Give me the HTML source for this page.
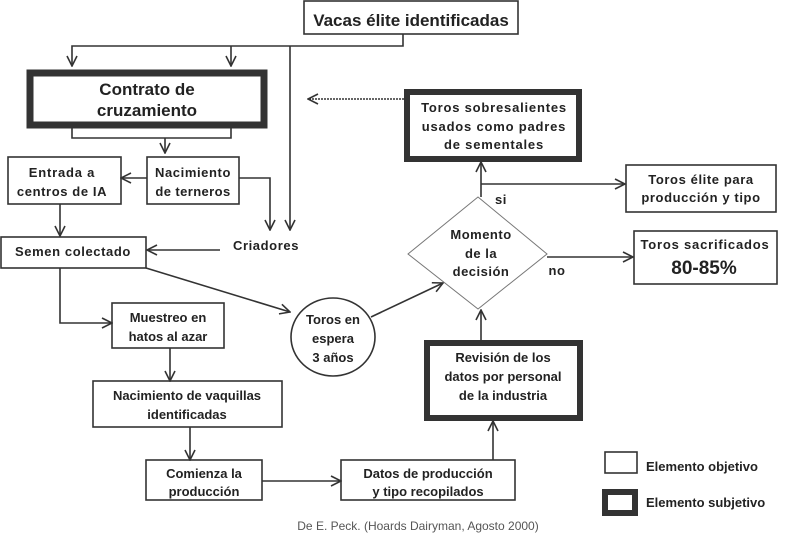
<!DOCTYPE html>
<html><head><meta charset="utf-8"><style>
html,body{margin:0;padding:0;background:#fff;}
svg{display:block}
text{font-family:"Liberation Sans",Arial,sans-serif;font-weight:bold;fill:#222;text-anchor:middle;font-size:13px}
</style></head><body>
<svg width="794" height="538" viewBox="0 0 794 538" xmlns="http://www.w3.org/2000/svg">
<defs>
<marker id="a" viewBox="0 0 12 12" refX="11" refY="6" markerWidth="12" markerHeight="12" markerUnits="userSpaceOnUse" orient="auto">
<path d="M1,1 L11,6 L1,11" fill="none" stroke="#333" stroke-width="1.6"/>
</marker>
</defs>
<g fill="none" stroke="#333" stroke-width="1.6">
<!-- boxes thin -->
<rect x="304" y="1" width="214" height="33"/>
<rect x="147" y="157" width="92" height="47"/>
<rect x="8" y="157" width="113" height="47"/>
<rect x="1" y="237" width="145" height="31"/>
<rect x="112" y="303" width="112" height="45"/>
<rect x="93" y="381" width="189" height="46"/>
<rect x="146" y="460" width="116" height="40"/>
<rect x="341" y="460" width="174" height="40"/>
<rect x="626" y="165" width="150" height="47"/>
<rect x="634" y="231" width="143" height="53"/>
<rect x="605" y="452" width="32" height="21"/>
<ellipse cx="333" cy="337" rx="42" ry="39"/>
<!-- thick boxes -->
<rect x="30" y="73" width="234" height="52" stroke-width="7"/>
<rect x="407" y="92" width="172" height="67" stroke-width="6"/>
<rect x="427" y="343" width="153" height="75" stroke-width="6"/>
<rect x="605" y="492" width="30" height="21" stroke-width="6"/>
<!-- connectors -->
<path d="M403,34 V46 H72 V66" marker-end="url(#a)"/>
<path d="M231,46 V66" marker-end="url(#a)"/>
<path d="M290,46 V230" marker-end="url(#a)"/>
<path d="M72,127 V138 H231 V127"/>
<path d="M165,138 V153" marker-end="url(#a)"/>
<path d="M147,178 H121" marker-end="url(#a)"/>
<path d="M239,178 H270 V230" marker-end="url(#a)"/>
<path d="M220,250 H147" marker-end="url(#a)"/>
<path d="M60,204 V236" marker-end="url(#a)"/>
<path d="M60,268 V323 H112" marker-end="url(#a)"/>
<path d="M146,268 L290,312" marker-end="url(#a)"/>
<path d="M170,348 V381" marker-end="url(#a)"/>
<path d="M190,427 V460" marker-end="url(#a)"/>
<path d="M262,481 H341" marker-end="url(#a)"/>
<path d="M493,460 V421" marker-end="url(#a)"/>
<path d="M481,340 V310" marker-end="url(#a)"/>
<path d="M371,317 L443,283" marker-end="url(#a)"/>
<path d="M481,197 V162" marker-end="url(#a)"/>
<path d="M481,184 H625" marker-end="url(#a)"/>
<path d="M547,257 H633" marker-end="url(#a)"/>
<path d="M404,99 H308" stroke-dasharray="2,1" marker-end="url(#a)"/>
</g>
<path d="M478,197 L547,254 L478,309 L408,254 Z" fill="none" stroke="#777" stroke-width="1"/>
<text x="411" y="26" style="font-size:17px">Vacas élite identificadas</text>
<text x="147" y="95" style="font-size:17px">Contrato de</text>
<text x="147" y="116" style="font-size:17px">cruzamiento</text>
<text x="193" y="177" letter-spacing="0.6">Nacimiento</text>
<text x="193" y="196" letter-spacing="0.4">de terneros</text>
<text x="62" y="177" letter-spacing="0.8">Entrada a</text>
<text x="62" y="196" letter-spacing="0.6">centros de IA</text>
<text x="73" y="256" letter-spacing="0.6">Semen colectado</text>
<text x="266" y="250" letter-spacing="0.6">Criadores</text>
<text x="168" y="322">Muestreo en</text>
<text x="168" y="341">hatos al azar</text>
<text x="187" y="400">Nacimiento de vaquillas</text>
<text x="187" y="419">identificadas</text>
<text x="204" y="478">Comienza la</text>
<text x="204" y="496">producción</text>
<text x="428" y="478">Datos de producción</text>
<text x="428" y="496">y tipo recopilados</text>
<text x="333" y="324">Toros en</text>
<text x="333" y="343">espera</text>
<text x="333" y="362">3 años</text>
<text x="503" y="362">Revisión de los</text>
<text x="503" y="381">datos por personal</text>
<text x="503" y="400">de la industria</text>
<text x="481" y="239" letter-spacing="0.5">Momento</text>
<text x="481" y="258" letter-spacing="0.5">de la</text>
<text x="481" y="276" letter-spacing="0.5">decisión</text>
<text x="494" y="112" letter-spacing="0.8">Toros sobresalientes</text>
<text x="494" y="131" letter-spacing="0.8">usados como padres</text>
<text x="494" y="149" letter-spacing="0.8">de sementales</text>
<text x="501" y="204" letter-spacing="0.6">si</text>
<text x="557" y="275" letter-spacing="0.6">no</text>
<text x="701" y="184" letter-spacing="0.6">Toros élite para</text>
<text x="701" y="202" letter-spacing="0.6">producción y tipo</text>
<text x="705" y="249" letter-spacing="0.8">Toros sacrificados</text>
<text x="704" y="274" style="font-size:19px">80-85%</text>
<text x="646" y="471" style="text-anchor:start">Elemento objetivo</text>
<text x="646" y="507" style="text-anchor:start">Elemento subjetivo</text>
<text x="418" y="530" style="font-weight:normal;font-size:12px;fill:#555">De E. Peck.  (Hoards Dairyman, Agosto 2000)</text>
</svg>
</body></html>
